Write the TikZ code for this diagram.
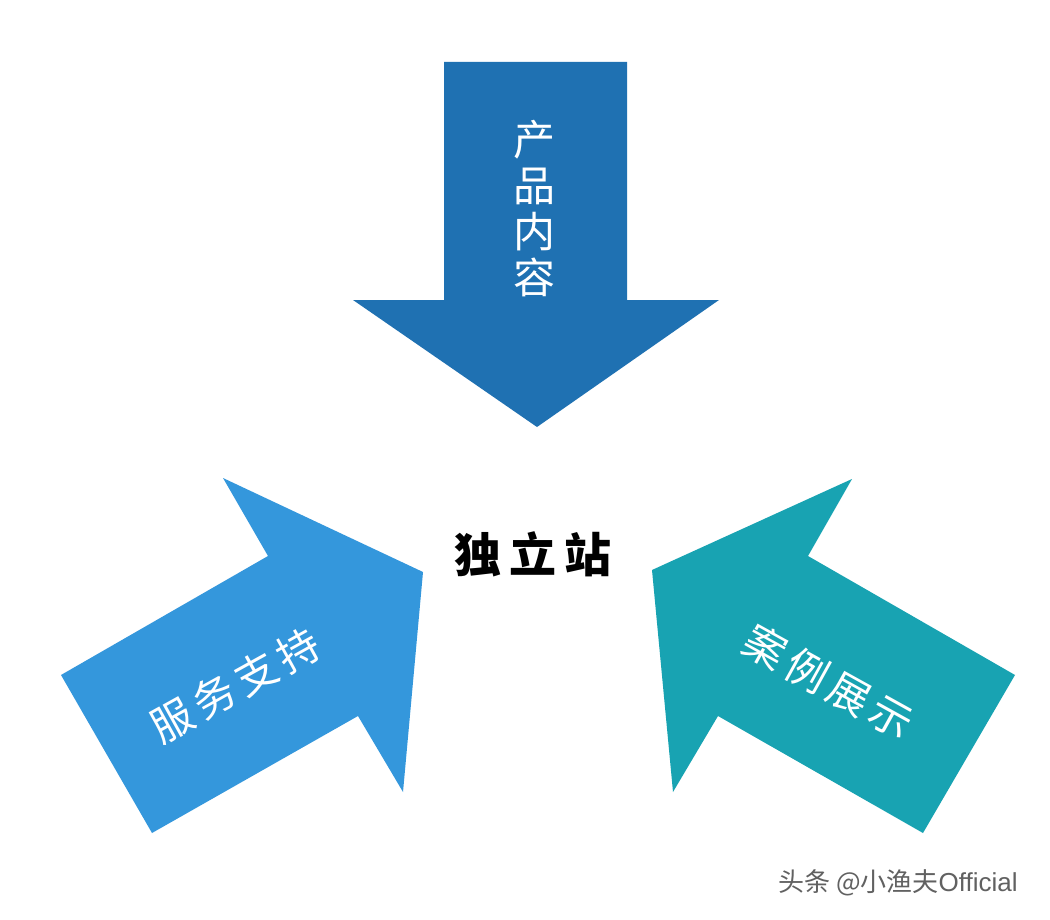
\documentclass[tikz,border=0pt]{standalone}
\usepackage{fontspec}
\setmainfont{Noto Sans CJK SC}
\newfontfamily\latinmark{Liberation Sans}
\definecolor{arrowtop}{RGB}{31,113,178}
\definecolor{arrowleft}{RGB}{52,151,220}
\definecolor{arrowright}{RGB}{24,163,178}
\tikzset{
  arrowshape/.style={draw=none},
  labeltext/.style={text=white, inner sep=0pt, font=\fontsize{42pt}{46pt}\selectfont},
  centertext/.style={text=black, inner sep=0pt, font=\fontsize{47pt}{50pt}\selectfont\bfseries},
  marktext/.style={text=black!62, inner sep=0pt, font=\fontsize{26pt}{30pt}\selectfont}
}
\begin{document}
\begin{tikzpicture}[x=1pt,y=-1pt]
\useasboundingbox[fill=white] (0,0) rectangle (1050,920);
% top arrow
\fill[arrowtop, arrowshape] (444,62) -- (627,62) -- (627,300) -- (719,300) -- (537,427) -- (353,300) -- (444,300) -- cycle;
% left arrow
\fill[arrowleft, arrowshape] (61,675) -- (268,556) -- (223,478) -- (423,572) -- (403,792) -- (358,716) -- (152,833) -- cycle;
% right arrow
\fill[arrowright, arrowshape] (1015,675) -- (808,556) -- (852,479) -- (652,570) -- (673,792) -- (718,716) -- (923,833) -- cycle;
% labels
\node[labeltext, align=center] (top) at (534,209) {产\\品\\内\\容};
\node[labeltext, rotate=29] (left) at (235,685) {服\hspace{6pt}务\hspace{6pt}支\hspace{6pt}持};
\node[labeltext, rotate=-29] (right) at (829,682) {案\hspace{6pt}例\hspace{6pt}展\hspace{6pt}示};
\node[centertext] (center) at (533,554) {独\hspace{8pt}立\hspace{8pt}站};
\node[marktext] (mark) at (898,883) {头条 @小渔夫{\latinmark Official}};
\end{tikzpicture}
\end{document}
